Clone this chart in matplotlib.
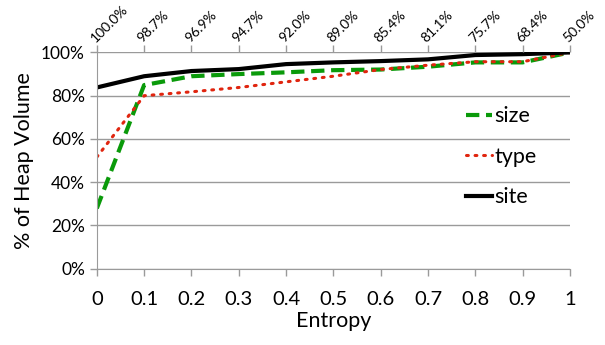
import numpy as np
import matplotlib
matplotlib.use("Agg")
import matplotlib.pyplot as plt

plt.rcParams["font.family"] = ["Lato", "DejaVu Sans"]

# Data
entropy = [0.0, 0.1, 0.2, 0.3, 0.4, 0.5, 0.6, 0.7, 0.8, 0.9, 1.0]
size = [0.279, 0.849, 0.89, 0.90, 0.908, 0.918, 0.921, 0.934, 0.954, 0.954, 1.0]
type_ = [0.516, 0.80, 0.818, 0.838, 0.864, 0.89, 0.921, 0.941, 0.957, 0.957, 1.0]
site = [0.838, 0.89, 0.914, 0.923, 0.946, 0.954, 0.96, 0.968, 0.988, 0.992, 1.0]
top_labels = ["100.0%", "98.7%", "96.9%", "94.7%", "92.0%", "89.0%",
              "85.4%", "81.1%", "75.7%", "68.4%", "50.0%"]

grey = "#9a9a9a"

fig = plt.figure(figsize=(6.05, 3.45), dpi=100)
ax = fig.add_axes([0.160, 0.221, 0.782, 0.627])

ax.plot(entropy, size, color="#0a9a0a", linewidth=3, dashes=(3.2, 1.6), label="size")
ax.plot(entropy, type_, color="#e0250f", linewidth=2.2, linestyle=(0, (0.6, 2.2)),
        dash_capstyle="round", label="type")
ax.plot(entropy, site, color="black", linewidth=3, label="site")

ax.set_xlim(0, 1)
ax.set_ylim(0, 1)
ax.set_xticks(entropy)
ax.set_xticklabels(["0", "0.1", "0.2", "0.3", "0.4", "0.5", "0.6", "0.7", "0.8", "0.9", "1"],
                   fontsize=14.5)
ax.set_yticks(np.arange(0, 1.01, 0.2))
ax.set_yticklabels(["0%", "20%", "40%", "60%", "80%", "100%"], fontsize=12.5)
ax.yaxis.grid(True, color=grey, linewidth=1)
ax.set_axisbelow(True)
for s in ["top", "right"]:
    ax.spines[s].set_visible(False)
for s in ["left", "bottom"]:
    ax.spines[s].set_color(grey)
ax.tick_params("both", length=5, color=grey, width=1, direction="out")
ax.tick_params("x", pad=11)
ax.set_xlabel("Entropy", fontsize=15.5, labelpad=2)
ax.set_ylabel("% of Heap Volume", fontsize=15.5, labelpad=5)

ax2 = ax.twiny()
ax2.set_xlim(0, 1)
ax2.set_xticks(entropy)
ax2.set_xticklabels(top_labels, rotation=45, ha="left", va="bottom",
                    rotation_mode="anchor", fontsize=10)
ax2.tick_params("x", length=5, color=grey, width=1, pad=1)
for s in ax2.spines.values():
    s.set_visible(False)

ax.legend(loc="upper left", bbox_to_anchor=(0.74, 0.84), frameon=False, fontsize=15.5,
          handlelength=1.2, handletextpad=0.1, labelspacing=0.95)

fig.savefig("out.png", dpi=100)
